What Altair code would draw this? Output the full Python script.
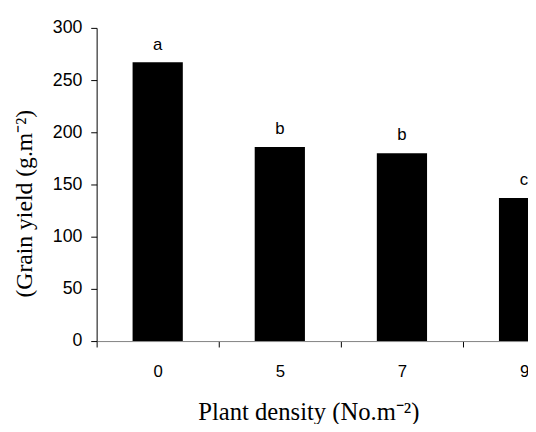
import altair as alt
import pandas as pd

density = ["0", "5", "7", "9"]
yield_vals = [267, 186, 180, 137]
letters = ["a", "b", "b", "c"]

df = pd.DataFrame({"density": density, "yield": yield_vals, "letter": letters})

x = alt.X("density:N", sort=density,
          scale=alt.Scale(range=[0, 496], paddingInner=0, paddingOuter=0),
          axis=alt.Axis(title="Plant density (No.m⁻²)", labelAngle=0,
                        tickBand="extent", domainColor="#808080", tickColor="#000000",
                        tickSize=6, labelPadding=17, labelFontSize=17,
                        labelFont="Liberation Sans", labelColor="#000000",
                        titleFont="Liberation Serif", titleFontSize=25,
                        titleFontWeight="normal", titleColor="#000000",
                        titleBaseline="alphabetic", titleAlign="center",
                        titleX=215, titleY=80, grid=False))

y = alt.Y("yield:Q", scale=alt.Scale(domain=[0, 300]),
          axis=alt.Axis(title="(Grain yield (g.m⁻²)", values=[0, 50, 100, 150, 200, 250, 300],
                        domainColor="#000000", tickColor="#000000", tickSize=6,
                        labelFontSize=18, labelFont="Liberation Sans", labelColor="#000000",
                        labelPadding=9,
                        titleFont="Liberation Serif", titleFontSize=24,
                        titleFontWeight="normal", titleColor="#000000",
                        titleBaseline="alphabetic", titleAlign="center",
                        titleAngle=270, titleX=-66, titleY=178, grid=False))

bars = alt.Chart(df).mark_bar(color="#000000", width=alt.RelativeBandSize(51 / 124)).encode(x=x, y=y)
text = alt.Chart(df).mark_text(dy=-13, baseline="alphabetic", fontSize=17,
                               font="Liberation Sans", color="#000000").encode(
    x=alt.X("density:N", sort=density), y="yield:Q", text="letter:N")

chart = (bars + text).properties(
    width=438, height=318,
    autosize=alt.AutoSizeParams(type="none"),
    padding={"left": 90, "right": 0, "top": 17, "bottom": 81},
).configure_view(stroke=None)

chart.save("out.html", embed_options={"renderer": "svg", "actions": False})
